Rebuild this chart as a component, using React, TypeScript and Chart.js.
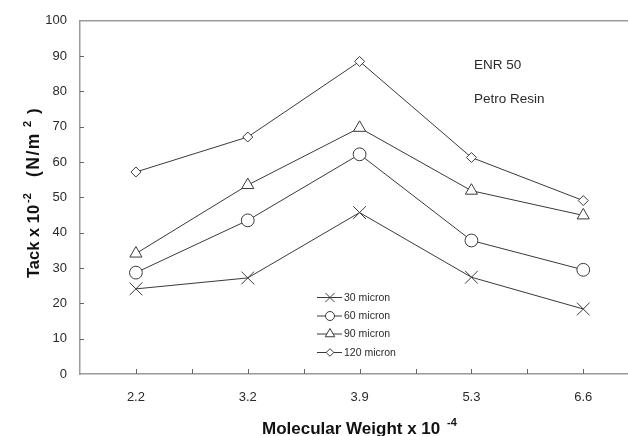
import React, { useEffect, useRef } from 'react';
import { Chart, registerables } from 'chart.js';

Chart.register(...registerables);

// ---- data ----
const xLabels = ['2.2', '3.2', '3.9', '5.3', '6.6'];
const s30 = [24.1, 27.2, 45.7, 27.4, 18.4];
const s60 = [28.7, 43.5, 62.2, 37.8, 29.5];
const s90 = [34.1, 53.5, 69.7, 51.9, 44.9];
const s120 = [57.2, 67.1, 88.5, 61.3, 49.1];
const seriesNames = ['30 micron', '60 micron', '90 micron', '120 micron'];
const seriesStyles = ['crossRot', 'circle', 'triangle', 'rectRot'];
const notes = ['ENR 50', 'Petro Resin'];
const yMin = 0;
const yMax = 100;
const yStep = 10;
const xMin = -0.5;
const xMax = 4.4;

const FONT = '"Liberation Sans", Arial, sans-serif';
const AXIS_COLOR = '#9a9a9a';
const LINE_COLOR = '#3a3a3a';
const TEXT_COLOR = '#2a2a2a';

function drawMarker(ctx: CanvasRenderingContext2D, style: string, x: number, y: number, r: number) {
  ctx.save();
  ctx.beginPath();
  ctx.strokeStyle = LINE_COLOR;
  ctx.fillStyle = '#fff';
  ctx.lineWidth = 1;
  if (style === 'circle') {
    ctx.arc(x, y, r, 0, Math.PI * 2);
    ctx.fill();
    ctx.stroke();
  } else if (style === 'triangle') {
    ctx.moveTo(x, y - r);
    ctx.lineTo(x + r * 0.866, y + r * 0.5);
    ctx.lineTo(x - r * 0.866, y + r * 0.5);
    ctx.closePath();
    ctx.fill();
    ctx.stroke();
  } else if (style === 'rectRot') {
    ctx.moveTo(x, y - r);
    ctx.lineTo(x + r, y);
    ctx.lineTo(x, y + r);
    ctx.lineTo(x - r, y);
    ctx.closePath();
    ctx.fill();
    ctx.stroke();
  } else {
    const d = r * 0.707;
    ctx.moveTo(x - d, y - d);
    ctx.lineTo(x + d, y + d);
    ctx.moveTo(x + d, y - d);
    ctx.lineTo(x - d, y + d);
    ctx.stroke();
  }
  ctx.restore();
}

const decorPlugin = {
  id: 'decor',
  afterDraw(chart: any) {
    const ctx: CanvasRenderingContext2D = chart.ctx;
    const { left, top, bottom } = chart.chartArea;
    const xs = chart.scales.x;
    const ys = chart.scales.y;

    // top border
    ctx.save();
    ctx.strokeStyle = AXIS_COLOR;
    ctx.lineWidth = 1.5;
    ctx.beginPath();
    ctx.moveTo(left, top);
    ctx.lineTo(chart.width, top);
    ctx.stroke();

    // inner tick marks on x (categories and midpoints)
    ctx.lineWidth = 1;
    ctx.strokeStyle = '#666';
    for (let i = 0; i < xLabels.length; i++) {
      for (const off of [0, 0.5]) {
        const v = i + off;
        if (v > xLabels.length - 1) continue;
        const px = Math.round(xs.getPixelForValue(v)) + 0.5;
        ctx.beginPath();
        ctx.moveTo(px, bottom);
        ctx.lineTo(px, bottom - 5);
        ctx.stroke();
      }
    }
    // inner tick marks on y
    for (let v = yMin + yStep; v < yMax; v += yStep) {
      const py = Math.round(ys.getPixelForValue(v)) + 0.5;
      ctx.beginPath();
      ctx.moveTo(left, py);
      ctx.lineTo(left + 4, py);
      ctx.stroke();
    }
    ctx.restore();

    // legend inside plot
    const legendX = 317;
    const legendRows = [297.5, 316, 334, 352.5];
    ctx.save();
    seriesNames.forEach((name, i) => {
      const y = legendRows[i];
      ctx.strokeStyle = LINE_COLOR;
      ctx.lineWidth = 1;
      ctx.beginPath();
      ctx.moveTo(legendX, y);
      ctx.lineTo(legendX + 25, y);
      ctx.stroke();
      const st = seriesStyles[i];
      const r = st === 'circle' ? 4.5 : st === 'triangle' ? 5.5 : st === 'rectRot' ? 3.8 : 6.5;
      drawMarker(ctx, st, legendX + 13, y, r);
      ctx.fillStyle = TEXT_COLOR;
      ctx.font = `10.5px ${FONT}`;
      ctx.textAlign = 'left';
      ctx.textBaseline = 'middle';
      ctx.fillText(name, legendX + 27, y + 0.5);
    });
    ctx.restore();

    // notes
    ctx.save();
    ctx.fillStyle = TEXT_COLOR;
    ctx.font = `13.5px ${FONT}`;
    ctx.textAlign = 'left';
    ctx.textBaseline = 'middle';
    ctx.fillText(notes[0], 474, 65);
    ctx.fillText(notes[1], 474, 99.5);
    ctx.restore();

    // x axis title
    ctx.save();
    ctx.fillStyle = '#111';
    ctx.textAlign = 'left';
    ctx.textBaseline = 'alphabetic';
    ctx.font = `bold 17px ${FONT}`;
    ctx.fillText('Molecular Weight x 10', 262, 434);
    ctx.font = `bold 11px ${FONT}`;
    ctx.fillText('-4', 447, 426);
    ctx.restore();

    // y axis title (rotated), pieces placed along the axis
    ctx.save();
    ctx.fillStyle = '#111';
    ctx.textAlign = 'left';
    ctx.textBaseline = 'alphabetic';
    ctx.translate(39, 278);
    ctx.rotate(-Math.PI / 2);
    ctx.font = `bold 16.5px ${FONT}`;
    ctx.fillText('Tack x 10', 0, 0);
    ctx.font = `bold 11px ${FONT}`;
    ctx.fillText('-2', 75, -8);
    ctx.font = `bold 17.5px ${FONT}`;
    (ctx as any).letterSpacing = '1.5px';
    ctx.fillText('(N/m', 101, 0);
    (ctx as any).letterSpacing = '0px';
    ctx.font = `bold 11px ${FONT}`;
    ctx.fillText('2', 151, -8);
    ctx.font = `bold 17px ${FONT}`;
    ctx.fillText(')', 164, 0);
    ctx.restore();
  },
};

export default function App() {
  const ref = useRef<HTMLCanvasElement | null>(null);

  useEffect(() => {
    document.body.style.margin = '0';
    const canvas = ref.current;
    if (!canvas) return;
    const allSeries = [s30, s60, s90, s120];
    const radii = [9, 6.4, 7, 5];
    const chart = new Chart(canvas, {
      type: 'line',
      data: {
        datasets: allSeries.map((s, i) => ({
          label: seriesNames[i],
          data: s.map((v, j) => ({ x: j, y: v })),
          borderColor: LINE_COLOR,
          borderWidth: 1,
          pointStyle: seriesStyles[i] as any,
          pointRadius: radii[i],
          pointBorderWidth: 1,
          pointBorderColor: LINE_COLOR,
          pointBackgroundColor: '#fff',
          fill: false,
          tension: 0,
        })),
      },
      options: {
        animation: false,
        responsive: false,
        devicePixelRatio: 1,
        layout: { autoPadding: false, padding: { top: 20, left: 0, right: 0, bottom: 0 } },
        plugins: {
          legend: { display: false },
          tooltip: { enabled: false },
          title: { display: false },
        },
        scales: {
          x: {
            type: 'linear',
            min: xMin,
            max: xMax,
            afterBuildTicks: (scale: any) => {
              scale.ticks = [...xLabels.map((_, i) => ({ value: i })), { value: xMax }];
            },
            afterFit: (scale: any) => {
              scale.height = 62;
              scale.paddingLeft = 0;
              scale.paddingRight = 0;
            },
            ticks: {
              autoSkip: false,
              maxRotation: 0,
              padding: 16,
              color: TEXT_COLOR,
              font: { family: FONT, size: 13 },
              callback: (v: any) => {
                const n = Number(v);
                return Number.isInteger(n) && xLabels[n] !== undefined ? xLabels[n] : '';
              },
            },
            grid: { display: false, drawTicks: false },
            border: { display: true, color: AXIS_COLOR, width: 1.5 },
          },
          y: {
            min: yMin,
            max: yMax,
            afterFit: (scale: any) => {
              scale.width = 80;
            },
            ticks: {
              stepSize: yStep,
              padding: 13,
              color: TEXT_COLOR,
              font: { family: FONT, size: 13 },
            },
            grid: { display: false, drawTicks: false },
            border: { display: true, color: AXIS_COLOR, width: 1.5 },
          },
        },
      },
      plugins: [decorPlugin],
    });
    return () => chart.destroy();
  }, []);

  return (
    <div style={{ width: 628, height: 436, overflow: 'hidden', background: '#fff' }}>
      <canvas ref={ref} width={628} height={436} />
    </div>
  );
}
